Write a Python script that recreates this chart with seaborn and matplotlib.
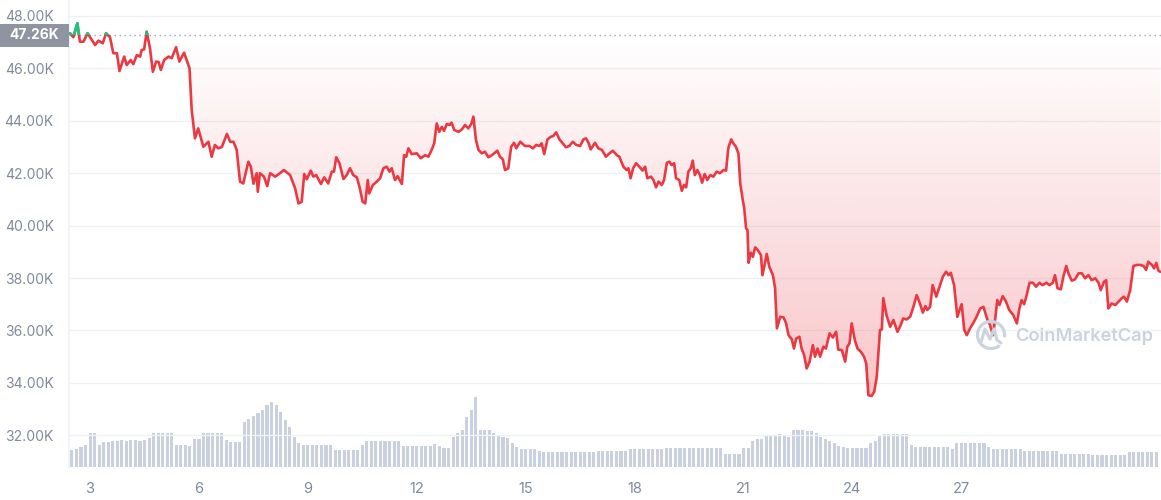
import numpy as np
import pandas as pd
import matplotlib
matplotlib.use("Agg")
import matplotlib.pyplot as plt
import matplotlib.transforms as mtransforms
from matplotlib.colors import to_rgb
from matplotlib.patches import Rectangle, Arc
from matplotlib.path import Path
from matplotlib.ticker import FuncFormatter
import seaborn as sns

# BTC price (thousands USD) against day of month
days = [
    2.45, 2.54, 2.65, 2.72, 2.82, 2.93, 3.00, 3.14, 3.23, 3.35, 3.44, 3.55, 3.64, 3.74,
    3.81, 3.94, 4.01, 4.12, 4.19, 4.29, 4.38, 4.42, 4.49, 4.56, 4.65, 4.73, 4.82, 4.89,
    4.95, 5.04, 5.16, 5.25, 5.37, 5.46, 5.59, 5.74, 5.80, 5.89, 5.98, 6.12, 6.26, 6.35,
    6.44, 6.53, 6.63, 6.77, 6.86, 6.95, 7.04, 7.13, 7.22, 7.36, 7.43, 7.50, 7.59, 7.62,
    7.68, 7.79, 7.88, 7.96, 8.10, 8.23, 8.34, 8.51,
    8.65, 8.74, 8.83, 8.90, 8.97, 9.08, 9.15, 9.23, 9.36, 9.45, 9.56, 9.66, 9.72, 9.78,
    9.87, 9.98, 10.07, 10.16, 10.25, 10.35, 10.42, 10.51, 10.58, 10.65, 10.69, 10.79,
    10.90, 10.99, 11.08, 11.17, 11.25, 11.31, 11.40, 11.47, 11.59, 11.65, 11.71, 11.77,
    11.86, 12.00, 12.11, 12.23, 12.32, 12.41, 12.48, 12.55, 12.62, 12.69, 12.75, 12.83,
    12.90, 12.96, 13.03, 13.15, 13.24, 13.33, 13.42, 13.50, 13.56, 13.63, 13.70, 13.79,
    13.88, 13.97, 14.07, 14.22, 14.29, 14.37, 14.43, 14.52, 14.60, 14.68, 14.74, 14.85,
    14.98,
    15.10, 15.20, 15.29, 15.38, 15.44, 15.51, 15.60, 15.69, 15.76, 15.84, 15.93, 16.02,
    16.11, 16.20, 16.30, 16.39, 16.50, 16.59, 16.66, 16.73, 16.79, 16.91, 17.00, 17.10,
    17.21, 17.31, 17.40, 17.51, 17.58, 17.69, 17.78, 17.83, 17.89, 17.96, 18.04, 18.13,
    18.22, 18.29, 18.35, 18.45, 18.52, 18.59, 18.66, 18.75, 18.81, 18.89, 18.96, 19.02,
    19.09, 19.14, 19.23, 19.30, 19.36, 19.42, 19.48, 19.55, 19.60, 19.66, 19.73, 19.80,
    19.86, 19.93, 20.00, 20.09, 20.17, 20.26, 20.35, 20.45, 20.52, 20.58, 20.66, 20.72,
    20.79, 20.86,
    20.91, 20.98, 21.02, 21.07, 21.11, 21.14, 21.20, 21.26, 21.32, 21.38, 21.48, 21.52,
    21.57, 21.64, 21.71, 21.81, 21.87, 21.92, 22.01, 22.10, 22.17, 22.24, 22.33, 22.39,
    22.45, 22.54, 22.60, 22.67, 22.74, 22.82, 22.91, 22.97, 23.04, 23.11, 23.20, 23.27,
    23.37, 23.46, 23.55, 23.61, 23.71, 23.80, 23.86, 23.92, 23.98, 24.07, 24.14, 24.23,
    24.32, 24.38, 24.44, 24.53, 24.60, 24.67, 24.76, 24.81, 24.85, 24.94, 25.04, 25.13,
    25.24, 25.31, 25.40, 25.49, 25.59, 25.68, 25.77, 25.86, 25.94, 26.01, 26.06, 26.14,
    26.21, 26.31, 26.40, 26.49, 26.58, 26.65, 26.71, 26.80, 26.89, 26.95, 27.01, 27.08,
    27.15, 27.24, 27.33, 27.42,
    27.52, 27.61, 27.72, 27.79, 27.87, 27.93, 27.99, 28.05, 28.14, 28.23, 28.32, 28.43,
    28.53, 28.60, 28.66, 28.73, 28.80, 28.88, 28.97, 29.06, 29.15, 29.24, 29.34, 29.43,
    29.52, 29.58, 29.65, 29.74, 29.81, 29.89, 29.95, 30.04, 30.13, 30.23, 30.32, 30.41,
    30.50, 30.59, 30.69, 30.78, 30.84, 30.93, 30.99, 31.05, 31.14, 31.24, 31.33, 31.42,
    31.48, 31.56, 31.65, 31.74, 31.83, 31.93, 32.02, 32.09, 32.15, 32.25, 32.31, 32.37,
    32.43, 32.48,
]
prices = [
    47.34, 47.19, 47.72, 47.02, 47.02, 47.34, 47.19, 46.89, 47.06, 46.96, 47.34, 47.19, 46.58, 46.58,
    45.90, 46.45, 46.13, 46.32, 46.16, 46.51, 46.45, 46.70, 46.73, 47.40, 46.77, 45.87, 46.26, 46.24,
    45.94, 46.32, 46.45, 46.39, 46.81, 46.26, 46.60, 46.00, 44.41, 43.33, 43.71, 43.01, 43.20, 42.63,
    43.08, 42.95, 43.00, 43.50, 43.20, 43.20, 42.89, 41.68, 41.61, 42.44, 42.25, 41.60, 42.00, 41.29,
    42.00, 41.87, 41.51, 42.00, 41.87, 42.00, 42.12, 41.93,
    41.42, 40.85, 40.91, 41.97, 41.77, 42.10, 41.87, 41.93, 41.59, 41.84, 41.61, 42.06, 42.06, 42.61,
    42.38, 41.78, 41.93, 42.19, 41.93, 41.84, 41.49, 40.91, 40.85, 41.74, 41.23, 41.55,
    41.68, 41.81, 42.19, 42.25, 42.06, 42.19, 41.74, 41.89, 41.59, 42.69, 42.63, 42.95,
    42.73, 42.76, 42.57, 42.69, 42.63, 42.89, 43.14, 43.90, 43.58, 43.77, 43.62, 43.88,
    43.84, 43.93, 43.65, 43.58, 43.67, 43.84, 43.71, 43.88, 44.16, 43.27, 42.89, 42.76,
    42.82, 42.61, 42.69, 42.86, 42.63, 42.53, 42.12, 42.19, 43.01, 43.16, 42.95, 43.20,
    43.04,
    43.04, 42.95, 43.08, 43.04, 43.14, 42.73, 43.29, 43.39, 43.42, 43.56, 43.29, 43.14,
    42.99, 43.04, 43.20, 43.08, 43.04, 43.29, 43.33, 43.16, 42.91, 43.16, 42.95, 42.89,
    42.63, 42.76, 42.86, 42.69, 42.63, 42.25, 42.12, 42.19, 41.81, 42.19, 42.38, 42.25,
    42.10, 42.25, 41.81, 41.87, 41.74, 41.46, 41.68, 41.55, 41.74, 42.40, 42.44, 42.31,
    42.38, 41.81, 41.74, 41.33, 41.55, 41.46, 42.06, 42.19, 42.48, 41.93, 42.12, 41.93,
    41.64, 41.97, 41.74, 41.93, 41.87, 42.06, 42.00, 42.12, 42.10, 42.95, 43.29, 43.14,
    43.01, 42.76,
    41.61, 40.98, 40.66, 39.90, 39.83, 38.58, 38.97, 38.81, 39.17, 39.09, 38.88, 38.11,
    38.43, 38.92, 38.43, 38.11, 37.61, 36.08, 36.52, 36.50, 36.29, 35.82, 35.66, 35.31,
    35.69, 35.76, 35.31, 35.06, 34.55, 34.81, 35.44, 35.00, 35.31, 35.00, 35.38, 35.31,
    35.89, 35.73, 35.95, 35.27, 35.25, 34.81, 35.38, 35.51, 36.27, 35.61, 35.31, 35.19,
    35.00, 34.74, 33.53, 33.50, 33.66, 34.23, 36.02, 36.04, 37.23, 36.58, 36.14, 36.40,
    35.95, 36.14, 36.46, 36.42, 36.52, 36.90, 37.35, 37.03, 36.68, 36.93, 36.78, 36.90,
    37.73, 37.29, 37.67, 38.05, 38.24, 38.11, 38.20, 37.73, 36.52, 36.78, 37.00, 36.02,
    35.82, 36.08, 36.29, 36.52,
    36.84, 36.90, 36.40, 36.21, 35.82, 36.40, 37.16, 36.97, 37.31, 37.10, 36.78, 36.59,
    36.27, 36.84, 37.16, 37.00, 37.35, 37.82, 37.82, 37.67, 37.82, 37.73, 37.82, 37.73,
    37.82, 38.11, 37.61, 37.57, 38.05, 38.46, 38.18, 37.90, 37.95, 38.18, 38.18, 37.99,
    38.11, 37.92, 37.99, 37.82, 37.54, 37.86, 37.92, 36.84, 37.03, 36.97, 37.10, 37.23,
    37.29, 37.10, 37.54, 38.46, 38.50, 38.50, 38.46, 38.31, 38.62, 38.50, 38.37, 38.58,
    38.28, 38.24,
]

# traded volume, one bar per 3 hours from day 2.5 (relative units)
volume = [
    17, 18, 20, 22, 34, 34, 22, 25,
    25, 26, 26, 27, 26, 27, 27, 26,
    27, 29, 34, 34, 34, 34, 34, 22,
    22, 22, 21, 28, 28, 34, 34, 34,
    34, 34, 27, 25, 25, 25, 45, 48,
    51, 54, 57, 62, 65, 62, 55, 47,
    40, 30, 24, 22, 22, 22, 22, 22,
    22, 22, 17, 17, 17, 17, 17, 17,
    22, 26, 26, 26, 26, 26, 26, 26,
    26, 21, 21, 21, 21, 21, 21, 21,
    23, 21, 19, 19, 30, 34, 37, 50,
    57, 70, 37, 37, 37, 34, 31, 30,
    29, 24, 20, 18, 18, 18, 18, 16,
    15, 15, 15, 15, 15, 15, 15, 15,
    15, 15, 15, 15, 16, 16, 16, 16,
    16, 16, 16, 18, 18, 18, 18, 18,
    18, 18, 18, 19, 19, 19, 19, 19,
    19, 19, 19, 19, 19, 19, 19, 19,
    13, 13, 13, 13, 19, 19, 26, 28,
    28, 31, 31, 32, 33, 31, 30, 37,
    37, 37, 36, 36, 34, 30, 28, 26,
    24, 21, 20, 19, 19, 19, 19, 19,
    24, 26, 31, 33, 33, 33, 33, 33,
    33, 22, 20, 20, 20, 20, 20, 20,
    20, 20, 18, 24, 24, 24, 24, 24,
    24, 24, 20, 18, 18, 18, 18, 18,
    18, 18, 16, 16, 16, 16, 16, 16,
    16, 16, 13, 13, 13, 13, 13, 13,
    13, 12, 12, 12, 12, 12, 12, 12,
    12, 15, 15, 15, 15, 15, 15, 15,
]

BASE = 47.26
tick_days = [3, 6, 9, 12, 15, 18, 21, 24, 27]
y_ticks = [32, 34, 36, 38, 40, 42, 44, 46, 48]

RED = "#ea3943"
GREEN = "#16c784"
GREY_TXT = "#808a9d"
X0, X1 = 2.42, 32.50

sns.set_theme(style="white")
plt.rcParams["font.family"] = ["Inter", "DejaVu Sans"]

fig = plt.figure(figsize=(11.61, 5.0), dpi=100)
ax = fig.add_axes([69 / 1161, 33 / 500, 1092 / 1161, 467 / 500])

# volume bars on a hidden twin axis, kept behind the price line
vol_ax = ax.twinx()
ax.set_zorder(vol_ax.get_zorder() + 1)
ax.patch.set_visible(False)
vol_t = 2.5 + np.arange(len(volume)) / 8
vol_ax.bar(vol_t, volume, width=0.085, color="#c9d1e1", linewidth=0)
vol_ax.set_ylim(0, 467)
vol_ax.axis("off")

df = pd.DataFrame({"day": days, "price": prices})

# gradient fill between line and the opening price
fill = ax.fill_between(df["day"], df["price"], BASE, color="none", linewidth=0)
clip = Path.make_compound_path(*fill.get_paths())
grad = np.zeros((256, 1, 4))
grad[..., :3] = to_rgb(RED)
grad[..., 3] = np.linspace(0.30, 0.0, 256)[:, None]
img = ax.imshow(grad, extent=[X0, X1, 33.0, BASE], origin="lower", aspect="auto",
                interpolation="bilinear", zorder=2)
img.set_clip_path(clip, transform=ax.transData)

# price line: red below the opening price, green above it
sns.lineplot(data=df, x="day", y="price", ax=ax, color=RED, linewidth=1.9, sort=False, zorder=4)
sns.lineplot(data=df, x="day", y="price", ax=ax, color=GREEN, linewidth=1.9, sort=False, zorder=5)
ax.lines[-1].set_clip_path(Rectangle((X0, BASE), X1 - X0, 5, transform=ax.transData))

ax.axhline(BASE, color="#9aa3b2", linewidth=1, linestyle=(0, (1, 2.6)), zorder=3)

ax.set_xlim(X0, X1)
ax.set_ylim(30.79, 48.61)
ax.set_xticks(tick_days)
ax.set_xticklabels([str(d) for d in tick_days])
ax.set_yticks(y_ticks)
ax.yaxis.set_major_formatter(FuncFormatter(lambda v, _: f"{v:.2f}K"))
ax.set_xlabel("")
ax.set_ylabel("")
ax.tick_params(axis="x", length=5, width=1, color="#c8ced8", labelcolor=GREY_TXT,
               labelsize=10.5, pad=6)
ax.tick_params(axis="y", length=0, labelcolor=GREY_TXT, labelsize=10, pad=11)
ax.grid(axis="y", color="#eff2f5", linewidth=1)
ax.grid(axis="x", visible=False)
for side in ["top", "right", "bottom"]:
    ax.spines[side].set_visible(False)
ax.spines["left"].set_color("#eff2f5")

# opening-price label in the left margin
trans = mtransforms.blended_transform_factory(fig.transFigure, ax.transData)
ax.add_patch(Rectangle((0, BASE - 0.435), 69 / 1161, 0.87, transform=trans,
                       facecolor="#8e95a1", edgecolor="none", clip_on=False, zorder=6))
ax.text(34.5 / 1161, BASE, f"{BASE:.2f}K", transform=trans, ha="center", va="center",
        color="white", fontsize=10, fontweight="bold", zorder=7, clip_on=False)

# watermark
WM = "#cbd3e1"
ax.text(0.866, 0.2805, "CoinMarketCap", transform=ax.transAxes, ha="left", va="center",
        color=WM, fontsize=13.2, fontweight="semibold", zorder=1)
px = mtransforms.IdentityTransform()
fig.patches.append(Arc((991, 165), 27, 27, theta1=-10, theta2=310, transform=px,
                       color=WM, linewidth=2.3))
fig.lines.append(plt.Line2D([981, 985, 990, 994, 997, 1001], [158, 171, 161, 171, 160, 157],
                            transform=px, color=WM, linewidth=2.3))

fig.savefig("out.png", dpi=100)
